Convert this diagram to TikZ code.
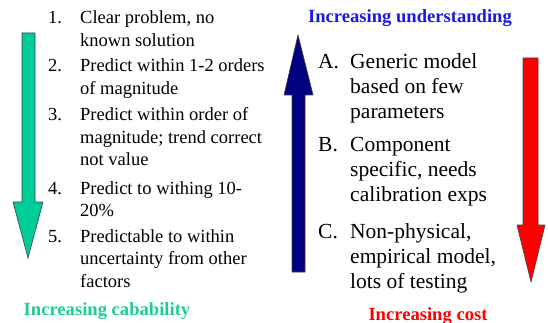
\documentclass[tikz,border=0pt]{standalone}
\usepackage{fontspec}
\setmainfont{Liberation Serif}
\usepackage{xcolor}
\usepackage{tikz}
\definecolor{capcol}{HTML}{00CC99}
\definecolor{captxt}{HTML}{1FCC96}
\definecolor{undcol}{HTML}{000080}
\definecolor{undtxt}{HTML}{1A1AE6}
\definecolor{costcol}{HTML}{FF0000}
\begin{document}
\begin{tikzpicture}[x=1pt,y=-1pt,
  item/.style={anchor=base west,inner sep=0pt,align=left},
  lft/.style={item,font=\fontsize{18.5}{22.5}\selectfont},
  rgt/.style={item,font=\fontsize{21.5}{25}\selectfont},
  head/.style={inner sep=0pt,font=\bfseries\fontsize{18.6}{22}\selectfont},
  blk/.style={draw=black!75,line width=0.6pt}
]
\useasboundingbox (0,0) rectangle (548,323);
% block arrows
\filldraw[blk,fill=capcol] (22,33) -- (35,33) -- (35,202) -- (43,202) -- (28,258)
  -- (13,202) -- (22,202) -- cycle;
\filldraw[blk,fill=undcol] (292,272) -- (305,272) -- (305,95) -- (313,95) -- (298,35)
  -- (284,95) -- (292,95) -- cycle;
\filldraw[blk,fill=costcol] (523,58) -- (538,58) -- (538,225) -- (545,225) -- (531,282)
  -- (517,225) -- (523,225) -- cycle;
% capability list (text nodes sit on the baseline of their last line)
\node[lft] (n1) at (48,24) {1.};
\node[lft] (t1) at (80,46.5) {Clear problem, no\\known solution};
\node[lft] (n2) at (48,72) {2.};
\node[lft] (t2) at (80,94.5) {Predict within 1-2 orders\\of magnitude};
\node[lft] (n3) at (48,121) {3.};
\node[lft] (t3) at (80,166) {Predict within order of\\magnitude; trend correct\\not value};
\node[lft] (n4) at (48,194) {4.};
\node[lft] (t4) at (80,216.5) {Predict to withing 10-\\20\%};
\node[lft] (n5) at (48,242) {5.};
\node[lft] (t5) at (80,287) {Predictable to within\\uncertainty from other\\factors};
% model list
\node[rgt] (nA) at (318,68.5) {A.};
\node[rgt] (tA) at (350,118.5) {Generic model\\based on few\\parameters};
\node[rgt] (nB) at (318,151.5) {B.};
\node[rgt] (tB) at (350,201.5) {Component\\specific, needs\\calibration exps};
\node[rgt] (nC) at (318,238.5) {C.};
\node[rgt] (tC) at (350,288.5) {Non-physical,\\empirical model,\\lots of testing};
% captions
\node[head,text=undtxt] (und) at (410,18) {Increasing understanding};
\node[head,text=captxt] (cap) at (107,311) {Increasing cabability};
\node[head,text=costcol] (cost) at (428,316) {Increasing cost};
\end{tikzpicture}
\end{document}
